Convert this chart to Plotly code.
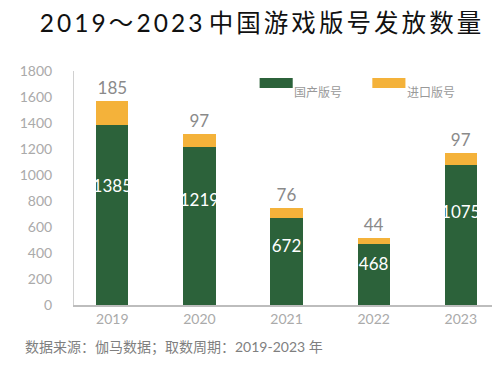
import plotly.graph_objects as go

years = ["2019", "2020", "2021", "2022", "2023"]
domestic = [1385, 1219, 672, 468, 1075]
imported = [185, 97, 76, 44, 97]
y_ticks = [0, 200, 400, 600, 800, 1000, 1200, 1400, 1600, 1800]

GREEN = "#2c623a"
ORANGE = "#f4b23a"
FONT = "Lato, 'Noto Sans CJK SC', sans-serif"

fig = go.Figure()
fig.add_trace(go.Bar(x=years, y=domestic, name="国产版号", marker_color=GREEN,
                     marker_line_width=0, showlegend=False))
fig.add_trace(go.Bar(x=years, y=imported, name="进口版号", marker_color=ORANGE,
                     marker_line_width=0, text=[str(v) for v in imported],
                     textposition="outside", cliponaxis=False,
                     textfont=dict(color="#8a8a8a", size=17, family=FONT),
                     showlegend=False))
fig.add_trace(go.Scatter(x=years, y=[d * 0.65 for d in domestic], mode="text",
                         text=[str(d) for d in domestic], showlegend=False,
                         textfont=dict(color="white", size=17, family=FONT),
                         hoverinfo="skip"))

# legend (custom wide swatches)
legend = [("国产版号", GREEN, 0.443), ("进口版号", ORANGE, 0.712)]
for label, col, x0 in legend:
    fig.add_shape(type="rect", xref="paper", yref="paper",
                  x0=x0, x1=x0 + 0.079, y0=0.927, y1=0.97,
                  fillcolor=col, line_width=0)
    fig.add_annotation(xref="paper", yref="paper", x=x0 + 0.078, y=0.948,
                       text=label, showarrow=False, xanchor="left",
                       font=dict(color="#999999", size=12, family=FONT))

title = "\u2009".join("2019～2023") + " " + "\u2009".join("中国游戏版号发放数量")

fig.update_layout(
    width=500, height=371,
    barmode="stack", bargap=0.63,
    paper_bgcolor="white", plot_bgcolor="white",
    margin=dict(l=54, r=15, t=63, b=74),
    title=dict(text=title, x=0.505, xanchor="center",
               y=0.958, yanchor="middle",
               font=dict(size=24.5, color="#111111", family=FONT, weight=400)),
    xaxis=dict(range=[-0.44, 4.37], showline=True, linecolor="#bdbdbd", linewidth=1.5,
               ticks="", tickfont=dict(color="#aaaaaa", size=14, family=FONT),
               showgrid=False, fixedrange=True),
    yaxis=dict(range=[0, 1800], tickvals=y_ticks, showline=True, linecolor="#d0d0d0",
               linewidth=1, ticks="", showgrid=False, zeroline=False,
               tickfont=dict(color="#aaaaaa", size=14, family=FONT), ticklabelstandoff=18),
)

fig.add_annotation(xref="paper", yref="paper", x=-0.1206, y=-0.179, xanchor="left",
                   yanchor="middle",
                   text="数据来源：伽马数据；取数周期：2019-2023 年", showarrow=False,
                   font=dict(color="#7f7f7f", size=14, family=FONT))

fig.write_html("out.html")
